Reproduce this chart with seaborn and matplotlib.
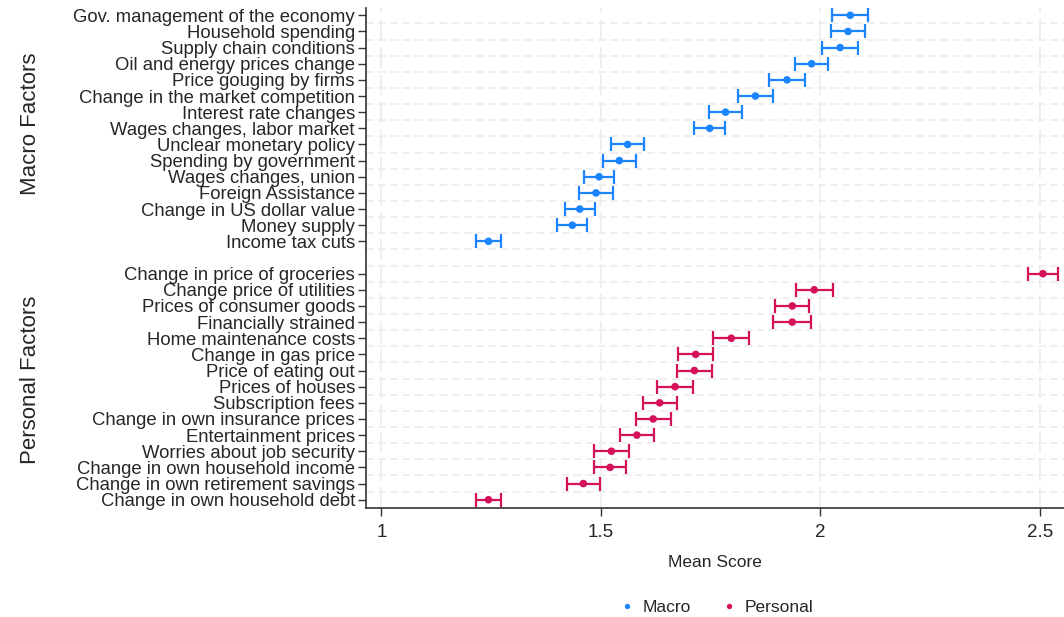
import matplotlib
matplotlib.use("Agg")
import matplotlib.pyplot as plt
import numpy as np
import pandas as pd
import seaborn as sns

macro_labels = [
    "Gov. management of the economy", "Household spending", "Supply chain conditions",
    "Oil and energy prices change", "Price gouging by firms", "Change in the market competition",
    "Interest rate changes", "Wages changes, labor market", "Unclear monetary policy",
    "Spending by government", "Wages changes, union", "Foreign Assistance",
    "Change in US dollar value", "Money supply", "Income tax cuts",
]
macro_mean = [2.068, 2.063, 2.045, 1.980, 1.924, 1.852, 1.784, 1.748, 1.561,
              1.542, 1.496, 1.489, 1.452, 1.435, 1.244]
macro_err = [0.041, 0.039, 0.041, 0.037, 0.041, 0.040, 0.037, 0.035, 0.037,
             0.037, 0.034, 0.039, 0.034, 0.034, 0.029]

personal_labels = [
    "Change in price of groceries", "Change price of utilities", "Prices of consumer goods",
    "Financially strained", "Home maintenance costs", "Change in gas price",
    "Price of eating out", "Prices of houses", "Subscription fees",
    "Change in own insurance prices", "Entertainment prices", "Worries about job security",
    "Change in own household income", "Change in own retirement savings",
    "Change in own household debt",
]
personal_mean = [2.507, 1.986, 1.936, 1.936, 1.797, 1.716, 1.713, 1.669, 1.634,
                 1.619, 1.582, 1.524, 1.521, 1.460, 1.244]
personal_err = [0.035, 0.042, 0.039, 0.043, 0.041, 0.040, 0.040, 0.041, 0.039,
                0.040, 0.038, 0.039, 0.037, 0.037, 0.029]

groups = ["Macro", "Personal"]
colors = {"Macro": "#1A85FF", "Personal": "#D41159"}

n_macro = len(macro_labels)
df = pd.DataFrame({
    "label": macro_labels + personal_labels,
    "mean": macro_mean + personal_mean,
    "err": macro_err + personal_err,
    "group": ["Macro"] * n_macro + ["Personal"] * len(personal_labels),
})
# one empty slot between the two groups
df["pos"] = list(range(n_macro)) + list(range(n_macro + 1, n_macro + 1 + len(personal_labels)))

sns.set_style("white")
plt.rcParams["font.family"] = ["Liberation Sans", "DejaVu Sans"]

fig = plt.figure(figsize=(10.64, 6.17), dpi=100)
ax = fig.add_axes([0.344, 0.177, 0.656, 0.81])

for g in groups:
    sub = df[df["group"] == g]
    ax.errorbar(sub["mean"], sub["pos"], xerr=sub["err"], fmt="none",
                ecolor=colors[g], elinewidth=1.6, capsize=5, capthick=1.6, zorder=3)
sns.scatterplot(data=df, x="mean", y="pos", hue="group", palette=colors,
                s=30, edgecolor="none", ax=ax, zorder=4, legend=True)

ax.set_xlim(0.965, 2.555)
ax.set_ylim(df["pos"].max() + 0.5, -0.45)
ax.set_yticks(df["pos"])
ax.set_yticklabels(df["label"], fontsize=13.3)
ax.set_yticks(np.arange(0.5, df["pos"].max(), 1.0), minor=True)
ax.set_xticks([1, 1.5, 2, 2.5])
ax.set_xticklabels(["1", "1.5", "2", "2.5"], fontsize=13.5)
ax.tick_params(axis="y", which="major", direction="out", length=6, width=1, color="#333333", pad=2, left=True)
ax.tick_params(axis="y", which="minor", length=0)
ax.tick_params(axis="x", direction="out", length=6, width=1, color="#333333", pad=6, bottom=True)

ax.grid(False)
ax.grid(axis="y", which="minor", color="#EBEBEB", linestyle=(0, (5, 3)), linewidth=1.1)
ax.grid(axis="x", which="major", color="#EBEBEB", linestyle=(0, (14, 4)), linewidth=1.1)

for side in ["top", "right"]:
    ax.spines[side].set_visible(False)
for side in ["left", "bottom"]:
    ax.spines[side].set_color("#333333")
    ax.spines[side].set_linewidth(1.2)

ax.set_xlabel("Mean Score", fontsize=12.5, labelpad=10)
ax.set_ylabel("")

fig.text(0.029, 0.8, "Macro Factors", rotation=90, ha="center", va="center", fontsize=16)
fig.text(0.029, 0.385, "Personal Factors", rotation=90, ha="center", va="center", fontsize=16)

handles, labels = ax.get_legend_handles_labels()
ax.get_legend().remove()
fig.legend(handles, labels, loc="center", bbox_to_anchor=(0.672, 0.016), ncol=2,
           frameon=False, fontsize=12.5, markerscale=0.7, handletextpad=0.3,
           handlelength=1.2, columnspacing=1.6)

fig.savefig("out.png", dpi=100)
